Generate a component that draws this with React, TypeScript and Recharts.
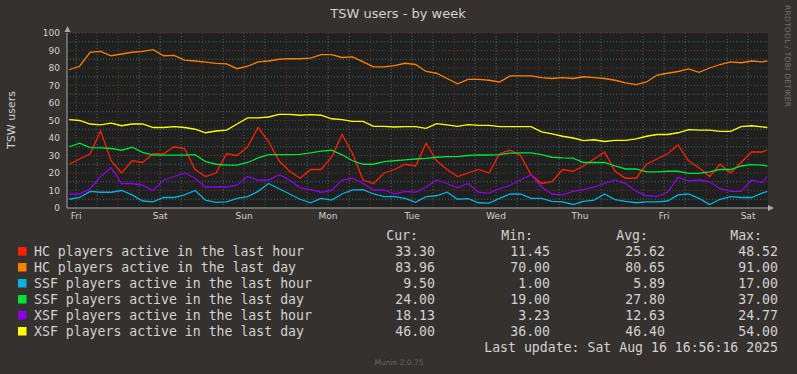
import React from 'react';
import { LineChart, Line, XAxis, YAxis, ReferenceLine } from 'recharts';

// hours since Friday 00:00, one sample every 3h
const HOURS = [10, 13, 16, 19, 22, 25, 28, 31, 34, 37, 40, 43, 46, 49, 52, 55, 58, 61, 64, 67, 70, 73, 76, 79, 82, 85, 88, 91, 94, 97, 100, 103, 106, 109, 112, 115, 118, 121, 124, 127, 130, 133, 136, 139, 142, 145, 148, 151, 154, 157, 160, 163, 166, 169, 172, 175, 178, 181, 184, 187, 190, 193, 196, 199, 202, 205, 208, 209.5];

const HC_HOUR = [25, 28, 31, 44, 27, 20, 27, 26, 31, 31, 35, 34, 22, 18, 20, 31, 30, 35, 46, 38, 27, 21, 17, 22, 22, 29, 42, 31, 16, 14, 20, 22, 25, 24, 37, 27, 22, 18, 20, 22, 20, 31, 33, 30, 19, 14, 15, 22, 21, 24, 28, 32, 21, 17, 17, 25, 28, 31, 36, 27, 23, 18, 25, 20, 26, 32, 32, 33.3];
const HC_DAY = [79, 81, 89, 89.5, 87, 88, 89, 89.5, 90.5, 87, 87.2, 84.5, 84, 83.3, 82.7, 82.3, 79.6, 81, 83.5, 84, 85, 85.3, 85.3, 85.7, 87.7, 87.7, 86, 86.3, 83.5, 80.7, 80.7, 81.3, 82.7, 82, 78, 77, 74, 71, 73.5, 73.5, 73, 72, 75.5, 75.5, 75.5, 74.5, 74, 74.5, 74, 75, 74.5, 74, 73, 71.5, 70.5, 72, 76, 77, 78, 79.5, 77.5, 80, 82, 83.5, 83, 84, 83.5, 84];
const SSF_HOUR = [5, 6, 9.5, 9, 9, 10, 7.5, 4, 3.5, 6, 6, 7.5, 10, 4.5, 3.2, 3.5, 5.5, 6.5, 9.5, 14, 11, 8, 5, 3, 5.5, 4.5, 8, 10.3, 10.5, 8, 6.5, 6.5, 5.5, 3.2, 6.5, 7, 9, 5, 5.3, 3, 2.8, 5.5, 8, 8, 5.5, 5.5, 3.8, 3.5, 2, 3.8, 4.5, 8, 4.8, 3.8, 3, 3.5, 3.5, 4, 7.5, 8, 5.5, 2, 5, 6.5, 6, 6, 8.5, 9.5];
const SSF_DAY = [35, 37, 34.5, 34.3, 34, 33, 34.7, 31.8, 30.2, 30.2, 30.2, 30.2, 30.5, 26.5, 25, 24.5, 24.5, 26, 28.6, 30.5, 30.5, 30.5, 30.7, 31.5, 32.5, 33, 30.4, 27, 25, 25, 26.5, 27, 27.5, 28, 28.3, 29, 29.4, 29.4, 30, 30.3, 30.3, 30.5, 31.4, 31.5, 31.5, 30.5, 29, 28.6, 28.5, 26, 26, 26, 24, 22.3, 22.3, 20.6, 20.6, 21, 21, 19.8, 19.8, 20.6, 22, 22, 24, 24.8, 24.5, 24];
const XSF_HOUR = [8, 8, 11, 18, 23, 14, 14, 13, 10, 16, 18, 20, 17, 12, 12, 12, 13, 18, 16, 16, 19, 16, 11.5, 10.5, 9, 10, 16, 17, 14, 10.3, 10.3, 8, 9.5, 9, 12, 16, 14, 11.5, 14, 9, 8.5, 11, 13, 16, 19, 12, 8, 7.5, 9.5, 10.5, 12, 14, 16, 14, 9.5, 7, 6.7, 9, 17.5, 15.5, 16, 15, 11, 9.5, 9.5, 16, 14.5, 18.1];
const XSF_DAY = [50.5, 50, 48, 47.5, 48.5, 47, 48, 48, 46, 46, 46.5, 46, 45, 43, 44, 44.5, 48, 51.5, 51.5, 52, 53.5, 53.5, 53, 53.3, 53, 51, 50.5, 49.5, 49.5, 46.7, 46.7, 46.3, 46.5, 46.5, 45.5, 48.2, 47.5, 46.7, 47.6, 47.2, 47.2, 46.5, 46.5, 46.5, 46.5, 43.5, 42.3, 41, 40, 38.5, 39, 38, 38.7, 38.7, 39.5, 41, 42, 42, 43, 44.8, 44.5, 44.5, 43.8, 43.8, 46.5, 47, 46.3, 46];

const DAY_TICKS = [12, 36, 60, 84, 108, 132, 156, 180, 204];
const DAY_NAMES = ['Fri', 'Sat', 'Sun', 'Mon', 'Tue', 'Wed', 'Thu', 'Fri', 'Sat'];
const Y_TICKS = [0, 10, 20, 30, 40, 50, 60, 70, 80, 90, 100];

const SERIES = [
  { key: 'hcHour', name: 'HC players active in the last hour', color: '#ff2200', values: HC_HOUR },
  { key: 'hcDay', name: 'HC players active in the last day', color: '#ff7f00', values: HC_DAY },
  { key: 'ssfHour', name: 'SSF players active in the last hour', color: '#00b4e0', values: SSF_HOUR },
  { key: 'ssfDay', name: 'SSF players active in the last day', color: '#00e13a', values: SSF_DAY },
  { key: 'xsfHour', name: 'XSF players active in the last hour', color: '#8f00e6', values: XSF_HOUR },
  { key: 'xsfDay', name: 'XSF players active in the last day', color: '#ffff00', values: XSF_DAY },
];

const CUR = ['33.30', '83.96', '9.50', '24.00', '18.13', '46.00'];
const MIN = ['11.45', '70.00', '1.00', '19.00', '3.23', '36.00'];
const AVG = ['25.62', '80.65', '5.89', '27.80', '12.63', '46.40'];
const MAX = ['48.52', '91.00', '17.00', '37.00', '24.77', '54.00'];

const rows = HOURS.map((t, i) => {
  const row: Record<string, number> = { t };
  SERIES.forEach(s => { row[s.key] = s.values[i]; });
  return row;
});

// grid: red at midnight / every 10, grey dotted at 6h / every 5
const midnights: number[] = [];
const quarters: number[] = [];
for (let h = 12; h <= 204; h += 6) {
  if (h % 24 === 0) midnights.push(h); else quarters.push(h);
}
const minorY = [5, 15, 25, 35, 45, 55, 65, 75, 85, 95];
const majorY = [10, 20, 30, 40, 50, 60, 70, 80, 90, 100];

const BG = '#35312f';
const PLOT_BG = '#1f2020';
const GRID_MINOR = '#5c5c5c';
const GRID_MAJOR = '#7d2c2c';
const TEXT = '#d2d2d2';
const SANS = 'DejaVu Sans, sans-serif';
const MONO = 'DejaVu Sans Mono, monospace';

export default function App() {
  return (
    <div style={{ position: 'fixed', left: 0, top: 0, width: 797, height: 374, background: BG, overflow: 'hidden' }}>
      <div style={{ position: 'absolute', left: 67, top: 33, width: 701, height: 175, background: PLOT_BG }} />
      <div style={{ position: 'absolute', left: 0, top: 0 }}>
        <LineChart width={797} height={374} data={rows} margin={{ top: 33, right: 29, bottom: 146, left: 27 }}>
          <XAxis
            type="number"
            dataKey="t"
            domain={[9.4, 209.7]}
            allowDataOverflow
            ticks={DAY_TICKS}
            tickFormatter={(v: number) => DAY_NAMES[DAY_TICKS.indexOf(v)]}
            height={20}
            tickLine={false}
            tickSize={2}
            tickMargin={3}
            axisLine={{ stroke: '#a8a8a8' }}
            tick={{ fill: TEXT, fontSize: 9, fontFamily: SANS }}
          />
          <YAxis
            type="number"
            domain={[0, 100]}
            ticks={Y_TICKS}
            width={40}
            interval={0}
            tickLine={false}
            tickSize={3}
            tickMargin={4}
            axisLine={{ stroke: '#a8a8a8' }}
            tick={{ fill: TEXT, fontSize: 9, fontFamily: SANS }}
          />
          {quarters.map(h => (
            <ReferenceLine key={'q' + h} x={h} stroke={GRID_MINOR} strokeDasharray="1 2" />
          ))}
          {minorY.map(v => (
            <ReferenceLine key={'m' + v} y={v} stroke={GRID_MINOR} strokeDasharray="1 2" />
          ))}
          {midnights.map(h => (
            <ReferenceLine key={'d' + h} x={h} stroke={GRID_MAJOR} strokeDasharray="1 2" />
          ))}
          {majorY.map(v => (
            <ReferenceLine key={'M' + v} y={v} stroke={GRID_MAJOR} strokeDasharray="1 2" />
          ))}
          {SERIES.map(s => (
            <Line
              key={s.key}
              type="linear"
              dataKey={s.key}
              stroke={s.color}
              strokeWidth={1.3}
              dot={false}
              isAnimationActive={false}
            />
          ))}
        </LineChart>
      </div>
      <svg width={797} height={374} style={{ position: 'absolute', left: 0, top: 0, pointerEvents: 'none' }}>
        <polygon points="64.5,32 67.5,26 70.5,32" fill="#a8a8a8" />
        <polygon points="768,205 774,208 768,211" fill="#a8a8a8" />
        <text x={398} y={18} textAnchor="middle" fill={TEXT} fontSize={13} fontFamily={SANS}>TSW users - by week</text>
        <text transform="translate(15,120) rotate(-90)" textAnchor="middle" fill={TEXT} fontSize={11} fontFamily={SANS}>TSW users</text>
        <text transform="translate(785,56) rotate(90)" textAnchor="middle" fill="#77716f" fontSize={7.5} fontFamily={SANS} textLength={102}>RRDTOOL / TOBI OETIKER</text>
        <g fontFamily={MONO} fontSize={13.2} fill={TEXT}>
          <text x={418} y={240} textAnchor="end">Cur:</text>
          <text x={533} y={240} textAnchor="end">Min:</text>
          <text x={648} y={240} textAnchor="end">Avg:</text>
          <text x={762} y={240} textAnchor="end">Max:</text>
          {SERIES.map((s, i) => (
            <g key={s.key}>
              <rect x={18} y={247 + i * 16} width={8.5} height={8.5} fill={s.color} />
              <text x={34} y={256 + i * 16}>{s.name}</text>
              <text x={435} y={256 + i * 16} textAnchor="end">{CUR[i]}</text>
              <text x={550} y={256 + i * 16} textAnchor="end">{MIN[i]}</text>
              <text x={665} y={256 + i * 16} textAnchor="end">{AVG[i]}</text>
              <text x={778} y={256 + i * 16} textAnchor="end">{MAX[i]}</text>
            </g>
          ))}
          <text x={778} y={352} textAnchor="end">Last update: Sat Aug 16 16:56:16 2025</text>
        </g>
        <text x={399} y={365} textAnchor="middle" fill="#6a6563" fontSize={7.5} fontFamily={SANS}>Munin 2.0.75</text>
      </svg>
    </div>
  );
}
